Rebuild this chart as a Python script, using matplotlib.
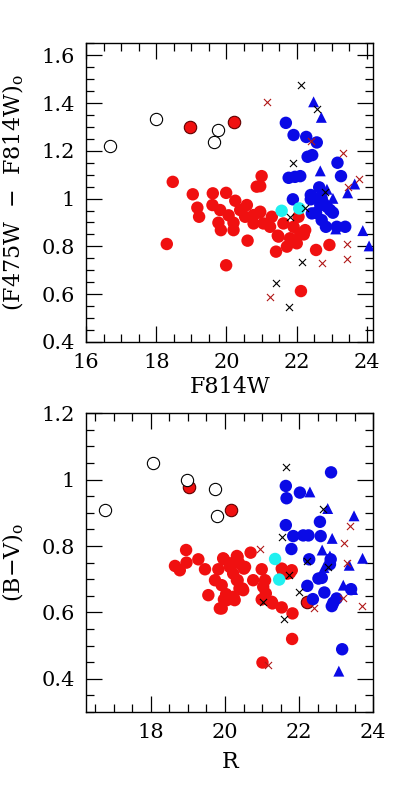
import matplotlib

matplotlib.use("Agg")
import matplotlib.pyplot as plt  # noqa: E402
from matplotlib.ticker import MultipleLocator  # noqa: E402

# ---- top panel: F814W vs (F475W - F814W)_o ----
top_open_x = [16.68, 17.99, 19.63, 19.77]
top_open_y = [1.220, 1.332, 1.238, 1.289]
top_rede_x = [18.96, 20.22]
top_rede_y = [1.299, 1.321]
top_cyan_x = [21.57, 22.07]
top_cyan_y = [0.949, 0.959]
top_red_x = [18.47, 18.30, 19.04, 19.17, 19.22, 19.61, 19.60, 19.99, 19.82, 19.77,
             19.84, 20.20, 20.20, 19.99, 20.25, 20.39, 20.58, 20.53, 20.60, 20.77,
             20.94, 21.00, 20.96, 21.05, 21.24, 21.29, 21.48, 21.41, 21.72, 21.81,
             21.91, 22.05, 22.10, 22.24, 22.55, 22.93, 22.12, 20.06, 20.77, 21.62,
             22.00, 20.86, 21.46, 20.96, 22.20]
top_red_y = [1.070, 0.810, 1.018, 0.962, 0.924, 1.022, 0.973, 1.024, 0.952, 0.899,
             0.868, 0.899, 0.868, 0.721, 0.991, 0.952, 0.973, 0.924, 0.824, 0.896,
             0.941, 1.094, 1.052, 0.896, 0.882, 0.924, 0.841, 0.778, 0.799, 0.834,
             0.882, 0.924, 0.854, 0.868, 0.785, 0.806, 0.613, 0.930, 0.931, 0.896,
             0.813, 1.050, 0.845, 0.945, 0.850]
top_blue_x = [21.69, 21.91, 22.27, 22.57, 22.31, 22.44, 23.16, 23.26, 21.77, 21.95,
              22.10, 22.64, 22.40, 22.40, 21.89, 22.71, 22.76, 22.86, 22.95, 23.03,
              22.43, 22.67, 22.71, 22.83, 23.38, 23.14, 22.55, 22.60]
top_blue_y = [1.317, 1.266, 1.258, 1.235, 1.175, 1.182, 1.150, 1.094, 1.087, 1.091,
              1.094, 1.047, 1.015, 0.997, 0.997, 1.001, 0.980, 0.966, 0.952, 0.941,
              0.938, 0.973, 0.910, 0.882, 0.882, 0.882, 0.940, 1.000]
top_tri_x = [22.48, 22.70, 22.67, 22.86, 23.03, 23.45, 23.65, 23.11, 23.88, 24.06]
top_tri_y = [1.405, 1.340, 1.116, 1.039, 1.001, 1.024, 1.061, 0.873, 0.866, 0.802]
top_kx_x = [22.13, 22.57, 21.88, 21.81, 22.24, 22.16, 21.41, 21.79, 22.81]
top_kx_y = [1.476, 1.377, 1.150, 0.921, 0.959, 0.736, 0.648, 0.548, 1.029]
top_rx_x = [21.15, 22.40, 23.33, 23.76, 23.47, 23.43, 23.43, 22.73, 21.24]
top_rx_y = [1.405, 1.240, 1.189, 1.084, 1.049, 0.810, 0.747, 0.732, 0.587]

# ---- bottom panel: R vs (B-V)_o ----
bot_open_x = [16.76, 18.07, 18.98, 19.73, 19.79]
bot_open_y = [0.908, 1.049, 0.999, 0.971, 0.890]
bot_rede_x = [19.02, 20.15, 22.20]
bot_rede_y = [0.977, 0.910, 0.632]
bot_cyan_x = [21.35, 21.46]
bot_cyan_y = [0.761, 0.699]
bot_red_x = [18.95, 18.65, 18.78, 18.96, 19.28, 19.46, 19.55, 19.73, 19.82, 19.97,
             19.91, 19.86, 19.97, 20.03, 20.13, 20.22, 20.26, 20.32, 20.38, 20.32,
             20.39, 20.54, 20.49, 20.69, 20.76, 20.99, 21.08, 21.03, 21.10, 20.99,
             21.26, 21.53, 21.53, 21.68, 21.80, 21.82, 21.81, 21.01, 19.95, 20.34,
             20.13, 20.51, 20.34, 20.47, 20.05, 20.23, 21.28, 21.57, 21.75, 19.91]
bot_red_y = [0.788, 0.740, 0.727, 0.750, 0.760, 0.730, 0.652, 0.697, 0.730, 0.760,
             0.682, 0.612, 0.639, 0.655, 0.748, 0.717, 0.637, 0.770, 0.748, 0.697,
             0.672, 0.737, 0.667, 0.780, 0.697, 0.730, 0.697, 0.677, 0.657, 0.639,
             0.632, 0.615, 0.732, 0.717, 0.727, 0.597, 0.520, 0.449, 0.763, 0.767,
             0.737, 0.732, 0.697, 0.672, 0.637, 0.647, 0.627, 0.722, 0.719, 0.612]
bot_blue_x = [22.86, 21.64, 21.66, 22.02, 21.64, 22.56, 21.84, 22.11, 22.25, 22.58,
              21.79, 22.27, 22.85, 22.52, 22.61, 22.22, 22.68, 22.37, 23.01, 22.92,
              22.88, 23.40, 23.16, 22.83]
bot_blue_y = [1.022, 0.981, 0.944, 0.961, 0.863, 0.873, 0.830, 0.832, 0.832, 0.830,
              0.791, 0.760, 0.760, 0.702, 0.704, 0.680, 0.660, 0.640, 0.642, 0.629,
              0.619, 0.670, 0.489, 0.745]
bot_tri_x = [22.29, 22.77, 23.48, 22.89, 22.62, 22.83, 23.71, 22.67, 23.35, 23.19,
             23.44, 23.07]
bot_tri_y = [0.963, 0.913, 0.891, 0.823, 0.788, 0.770, 0.763, 0.735, 0.742, 0.682,
             0.669, 0.423]
bot_kx_x = [21.64, 22.64, 21.53, 22.20, 22.77, 21.73, 22.00, 21.03, 21.59]
bot_kx_y = [1.039, 0.913, 0.828, 0.754, 0.737, 0.712, 0.660, 0.632, 0.579]
bot_rx_x = [20.94, 23.37, 23.22, 23.28, 23.19, 22.41, 23.69, 21.17]
bot_rx_y = [0.790, 0.860, 0.810, 0.748, 0.642, 0.612, 0.619, 0.441]

RED = "#f01010"
BLUE = "#0a0ae6"
CYAN = "#20f0f0"
DKRED = "#b01818"

plt.rcParams["font.family"] = ["DejaVu Serif"]
plt.rcParams["mathtext.fontset"] = "dejavuserif"


def draw(ax, d, xlim, ylim, ymajor, xlabel, ylabel):
    ax.scatter(d["red_x"], d["red_y"], s=80, c=RED, edgecolors="none", zorder=2)
    ax.scatter(d["rede_x"], d["rede_y"], s=80, c=RED, edgecolors="#600000",
               linewidths=0.8, zorder=3)
    ax.scatter(d["open_x"], d["open_y"], s=78, facecolors="white",
               edgecolors="black", linewidths=0.8, zorder=3)
    ax.scatter(d["blue_x"], d["blue_y"], s=80, c=BLUE, edgecolors="none", zorder=4)
    ax.scatter(d["tri_x"], d["tri_y"], s=62, marker="^", c=BLUE,
               edgecolors="none", zorder=4)
    ax.scatter(d["cyan_x"], d["cyan_y"], s=80, c=CYAN, edgecolors="none", zorder=5)
    ax.scatter(d["kx_x"], d["kx_y"], s=26, marker="x", c="black",
               linewidths=0.8, zorder=6)
    ax.scatter(d["rx_x"], d["rx_y"], s=26, marker="x", c=DKRED,
               linewidths=0.8, zorder=6)
    ax.set_xlim(*xlim)
    ax.set_ylim(*ylim)
    ax.xaxis.set_major_locator(MultipleLocator(2))
    ax.xaxis.set_minor_locator(MultipleLocator(0.5))
    ax.yaxis.set_major_locator(MultipleLocator(ymajor))
    ax.yaxis.set_minor_locator(MultipleLocator(0.05))
    ax.yaxis.set_major_formatter(plt.FuncFormatter(lambda v, p: f"{v:g}"))
    ax.tick_params(which="both", direction="in", top=True, right=True,
                   labelsize=15, width=0.9)
    ax.tick_params(which="major", length=11.5, pad=8)
    ax.tick_params(which="minor", length=5.5)
    for sp in ax.spines.values():
        sp.set_linewidth(1.0)
    ax.set_xlabel(xlabel, fontsize=16)
    ax.set_ylabel(ylabel, fontsize=16)


fig = plt.figure(figsize=(3.96, 7.94), dpi=100)
ax1 = fig.add_axes([0.2172, 0.5693, 0.7255, 0.3762])
ax2 = fig.add_axes([0.2172, 0.1033, 0.7255, 0.3762])

top = dict(open_x=top_open_x, open_y=top_open_y, rede_x=top_rede_x, rede_y=top_rede_y,
           cyan_x=top_cyan_x, cyan_y=top_cyan_y, red_x=top_red_x, red_y=top_red_y,
           blue_x=top_blue_x, blue_y=top_blue_y, tri_x=top_tri_x, tri_y=top_tri_y,
           kx_x=top_kx_x, kx_y=top_kx_y, rx_x=top_rx_x, rx_y=top_rx_y)
bot = dict(open_x=bot_open_x, open_y=bot_open_y, rede_x=bot_rede_x, rede_y=bot_rede_y,
           cyan_x=bot_cyan_x, cyan_y=bot_cyan_y, red_x=bot_red_x, red_y=bot_red_y,
           blue_x=bot_blue_x, blue_y=bot_blue_y, tri_x=bot_tri_x, tri_y=bot_tri_y,
           kx_x=bot_kx_x, kx_y=bot_kx_y, rx_x=bot_rx_x, rx_y=bot_rx_y)

draw(ax1, top, (16, 24.18), (0.4, 1.65), 0.2, "F814W",
     r"(F475W  $-$  F814W)$_{\rm o}$")
draw(ax2, bot, (16.25, 24), (0.3, 1.2), 0.2, "R", r"(B$-$V)$_{\rm o}$")

ax1.xaxis.set_label_coords(0.5, -0.115)
ax2.xaxis.set_label_coords(0.5, -0.13)
ax1.yaxis.set_label_coords(-0.21, 0.5)
ax2.yaxis.set_label_coords(-0.21, 0.5)

fig.savefig("out.png", dpi=100)
